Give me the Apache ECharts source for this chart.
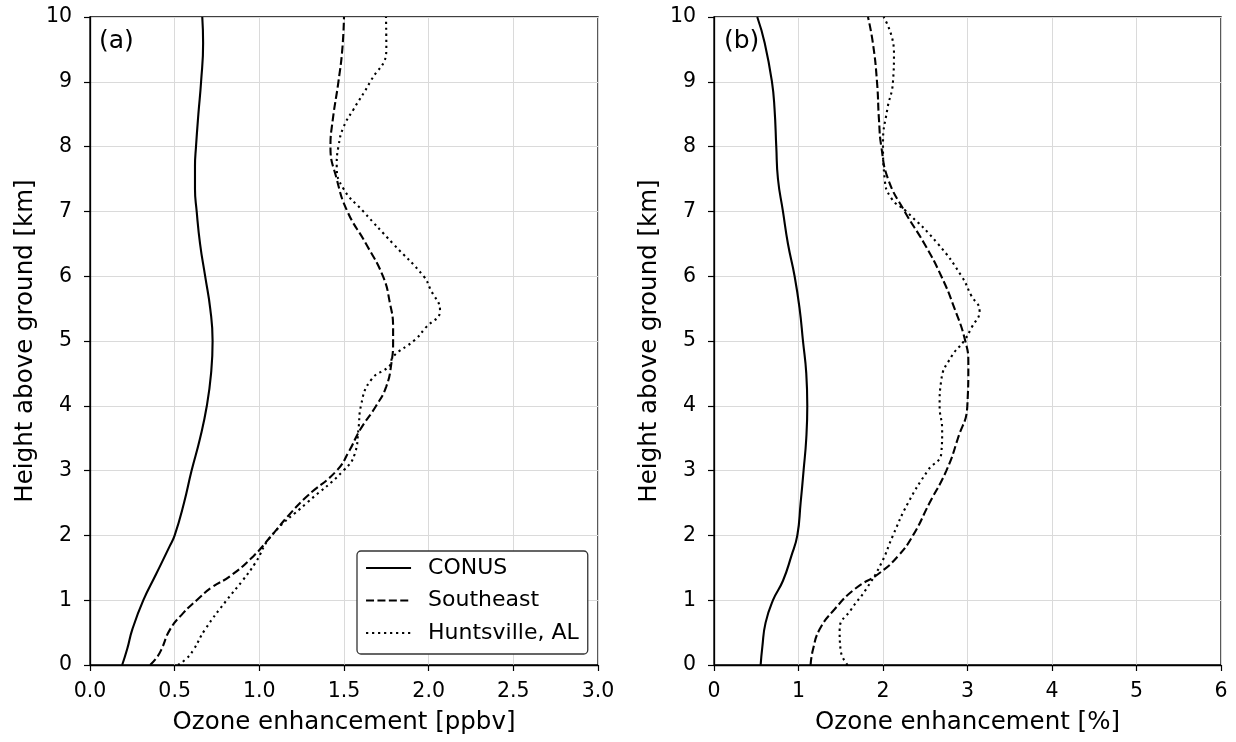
<!DOCTYPE html>
<html>
<head>
<meta charset="utf-8">
<script src="https://cdn.jsdelivr.net/npm/echarts@6/dist/echarts.min.js"></script>
<style>
  html, body { margin: 0; padding: 0; background: #fff; }
  #chart { width: 1236px; height: 742px; }
</style>
</head>
<body>
<div id="chart"></div>
<script>
// Ozone enhancement profiles, heights in km above ground.
const seriesNames = ['CONUS', 'Southeast', 'Huntsville, AL'];

// Panel (a): absolute enhancement [ppbv]
const conusHeightsA = [0, 0.25, 0.55, 1, 1.4, 1.83, 2, 2.5, 3, 3.5, 4, 4.5, 5, 5.5, 6, 6.5, 7, 7.35, 7.7, 8, 8.5, 9, 9.6, 10];
const conusPpbv     = [0.19, 0.22, 0.25, 0.315, 0.39, 0.47, 0.50, 0.555, 0.60, 0.65, 0.69, 0.715, 0.724, 0.71, 0.68, 0.65, 0.63, 0.62, 0.62, 0.626, 0.64, 0.656, 0.668, 0.663];

const southeastHeightsA = [0, 0.1, 0.23, 0.55, 0.8, 1, 1.2, 1.37, 1.68, 2, 2.3, 2.6, 3, 3.3, 3.63, 4, 4.3, 4.66, 5, 5.2, 5.6, 6, 6.5, 7, 7.5, 8, 8.4, 9, 9.5, 10];
const southeastPpbv     = [0.355, 0.39, 0.42, 0.473, 0.55, 0.63, 0.72, 0.827, 0.965, 1.073, 1.17, 1.28, 1.457, 1.53, 1.595, 1.69, 1.75, 1.78, 1.79, 1.79, 1.77, 1.73, 1.63, 1.52, 1.457, 1.42, 1.433, 1.467, 1.49, 1.50];

const huntsvilleHeightsA = [0, 0.1, 0.23, 0.55, 1, 1.3, 1.57, 2, 2.5, 3, 3.27, 3.63, 4, 4.4, 4.62, 4.76, 5.02, 5.2, 5.47, 5.8, 6, 6.5, 7, 7.35, 7.7, 8, 8.3, 8.57, 9, 9.5, 10];
const huntsvillePpbv     = [0.52, 0.57, 0.61, 0.68, 0.807, 0.90, 0.975, 1.073, 1.28, 1.497, 1.565, 1.585, 1.60, 1.66, 1.77, 1.79, 1.92, 1.98, 2.067, 2.01, 1.97, 1.79, 1.614, 1.497, 1.457, 1.467, 1.497, 1.555, 1.655, 1.75, 1.748];

// Panel (b): relative enhancement [%]
const conusHeightsB = [0, 0.28, 0.65, 1, 1.3, 1.68, 2, 2.5, 3, 3.5, 4, 4.5, 5, 5.5, 6, 6.5, 7, 7.5, 8, 8.57, 9, 9.6, 10];
const conusPct      = [0.552, 0.572, 0.61, 0.698, 0.816, 0.915, 0.986, 1.025, 1.06, 1.092, 1.104, 1.092, 1.053, 1.013, 0.954, 0.875, 0.816, 0.757, 0.737, 0.717, 0.686, 0.60, 0.512];

const southeastHeightsB = [0, 0.23, 0.55, 0.86, 1.17, 1.42, 1.68, 2, 2.5, 3, 3.5, 4, 4.66, 5, 5.5, 6, 6.5, 7, 7.5, 8, 8.4, 9, 9.6, 10];
const southeastPct      = [1.143, 1.17, 1.25, 1.427, 1.664, 1.96, 2.177, 2.355, 2.55, 2.75, 2.887, 2.998, 3.01, 2.974, 2.847, 2.69, 2.49, 2.256, 2.06, 1.98, 1.953, 1.929, 1.88, 1.822];

const huntsvilleHeightsB = [0, 0.23, 0.55, 0.86, 1.17, 1.57, 2, 2.5, 3, 3.27, 3.63, 4, 4.4, 4.76, 5, 5.2, 5.47, 5.7, 6, 6.5, 7, 7.2, 7.5, 8.05, 8.57, 9, 9.46, 10];
const huntsvillePct      = [1.581, 1.498, 1.487, 1.625, 1.80, 1.98, 2.118, 2.296, 2.53, 2.69, 2.70, 2.67, 2.69, 2.81, 2.958, 3.045, 3.143, 3.045, 2.93, 2.65, 2.276, 2.1, 2.02, 2.0, 2.05, 2.118, 2.13, 2.007];

const xTicksA = { min: 0, max: 3, interval: 0.5 };
const xTicksB = { min: 0, max: 6, interval: 1 };
const yTicks  = { min: 0, max: 10, interval: 1 };

const FONT = 'DejaVu Sans';
const LW = 2.1;
const dashStyles = ['solid', [8, 3.4], [2.2, 3.8]];

function pairs(xs, hs) { return xs.map((v, i) => [v, hs[i]]); }

function profile(name, idx, xs, hs, styleIdx) {
  return {
    name: name,
    type: 'line',
    xAxisIndex: idx,
    yAxisIndex: idx,
    data: pairs(xs, hs),
    showSymbol: false,
    symbol: 'none',
    smooth: 0.5,
    animation: false,
    lineStyle: { color: '#000', width: LW, type: dashStyles[styleIdx] },
    itemStyle: { color: '#000' },
    emphasis: { disabled: true }
  };
}

function xAxis(idx, ticks, name) {
  return {
    type: 'value', gridIndex: idx,
    min: ticks.min, max: ticks.max, interval: ticks.interval,
    name: name, nameLocation: 'middle', nameGap: 45,
    nameTextStyle: { fontFamily: FONT, fontSize: 24.5, color: '#000' },
    axisLine: { show: true, onZero: false, lineStyle: { color: '#000', width: 1.3 } },
    axisTick: { show: true, length: 6, lineStyle: { color: '#000', width: 1.2 } },
    axisLabel: {
      fontFamily: FONT, fontSize: 20.5, color: '#000', margin: 16,
      formatter: v => (ticks.interval < 1 ? v.toFixed(1) : String(v))
    },
    splitLine: { show: true, lineStyle: { color: '#dadada', width: 1 } }
  };
}

function yAxis(idx) {
  return {
    type: 'value', gridIndex: idx,
    min: yTicks.min, max: yTicks.max, interval: yTicks.interval,
    name: 'Height above ground [km]', nameLocation: 'middle', nameGap: 52,
    nameTextStyle: { fontFamily: FONT, fontSize: 24.5, color: '#000' },
    axisLine: { show: true, onZero: false, lineStyle: { color: '#000', width: 1.3 } },
    axisTick: { show: true, length: 6, lineStyle: { color: '#000', width: 1.2 } },
    axisLabel: { fontFamily: FONT, fontSize: 20.5, color: '#000', margin: 18 },
    splitLine: { show: true, lineStyle: { color: '#dadada', width: 1 } }
  };
}

const chart = echarts.init(document.getElementById('chart'), null, { renderer: 'canvas' });

chart.setOption({
  backgroundColor: '#fff',
  animation: false,
  title: [
    { text: '(a)', left: 99, top: 29, padding: 0, textStyle: { fontFamily: FONT, fontSize: 25, fontWeight: 'normal', color: '#000' } },
    { text: '(b)', left: 724, top: 29, padding: 0, textStyle: { fontFamily: FONT, fontSize: 25, fontWeight: 'normal', color: '#000' } }
  ],
  grid: [
    { left: 90, top: 17, width: 508, height: 648, show: true, borderColor: '#000', borderWidth: 1.3, backgroundColor: 'transparent' },
    { left: 714, top: 17, width: 507, height: 648, show: true, borderColor: '#000', borderWidth: 1.3, backgroundColor: 'transparent' }
  ],
  xAxis: [
    xAxis(0, xTicksA, 'Ozone enhancement [ppbv]'),
    xAxis(1, xTicksB, 'Ozone enhancement [%]')
  ],
  yAxis: [yAxis(0), yAxis(1)],
  legend: {
    data: seriesNames.map(n => ({ name: n })),
    orient: 'vertical',
    left: 357, top: 551,
    itemWidth: 45, itemHeight: 14, itemGap: 10.5,
    padding: [6, 9, 10, 8],
    backgroundColor: '#fff',
    borderColor: '#333', borderWidth: 1.3, borderRadius: 4,
    selectedMode: false,
    itemStyle: { opacity: 0 },
    lineStyle: { width: LW },
    textStyle: { fontFamily: FONT, fontSize: 22, color: '#000', lineHeight: 22, padding: [0, 0, 0, 12] }
  },
  series: [
    profile(seriesNames[0], 0, conusPpbv, conusHeightsA, 0),
    profile(seriesNames[1], 0, southeastPpbv, southeastHeightsA, 1),
    profile(seriesNames[2], 0, huntsvillePpbv, huntsvilleHeightsA, 2),
    profile(seriesNames[0], 1, conusPct, conusHeightsB, 0),
    profile(seriesNames[1], 1, southeastPct, southeastHeightsB, 1),
    profile(seriesNames[2], 1, huntsvillePct, huntsvilleHeightsB, 2)
  ]
});
</script>
</body>
</html>
